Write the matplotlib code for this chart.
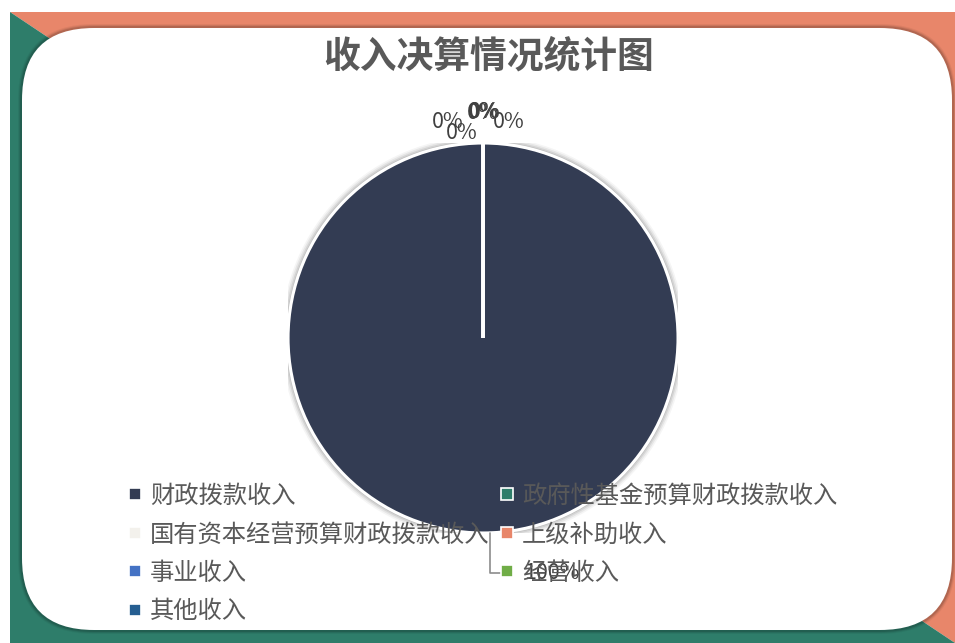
import matplotlib
matplotlib.use("Agg")
from matplotlib import pyplot as plt
from matplotlib.patches import FancyBboxPatch, Polygon, Circle
from matplotlib.lines import Line2D
import numpy as np

plt.rcParams['font.family'] = ['Noto Sans CJK SC', 'DejaVu Sans']

title = '收入决算情况统计图'
categories = ['财政拨款收入', '政府性基金预算财政拨款收入', '国有资本经营预算财政拨款收入',
              '上级补助收入', '事业收入', '经营收入', '其他收入']
values = [100, 0, 0, 0, 0, 0, 0]
colors = ['#333c53', '#2e7d6a', '#f3f1ec', '#e8866a', '#4472c4', '#70ad47', '#255e91']

# label offsets (pixels) from the rim point of each slice
label_offsets = [(62, -40), (-35, 21), (1, 31), (26, 21), (-21, 10), (2, 31), (0, 30)]

W, H = 955, 643
fig = plt.figure(figsize=(W / 100, H / 100), dpi=100)

# background frame
bg = fig.add_axes([0, 0, 1, 1])
bg.set_xlim(0, W)
bg.set_ylim(H, 0)
bg.axis('off')
bg.add_patch(Polygon([(10, 12), (W, 12), (W, H)], closed=True, color='#e8866a', lw=0))
bg.add_patch(Polygon([(10, 12), (W, H), (10, H)], closed=True, color='#2e7d6a', lw=0))
for i, a in enumerate([0.05, 0.08, 0.12]):
    g = 4 - i
    bg.add_patch(FancyBboxPatch((22 - g, 28 - g), 930 + 2 * g, 602 + 2 * g,
                                boxstyle='round,pad=0,rounding_size=%d' % (72 + g),
                                fc='black', ec='none', alpha=a))
bg.add_patch(FancyBboxPatch((22, 28), 930, 602, boxstyle='round,pad=0,rounding_size=72',
                            fc='white', ec='none'))
bg.text(489, 57, title, ha='center', va='center', fontsize=26.5, fontweight='bold',
        color='#595959')

# pie
ax = fig.add_axes([0.3016, 0.1711, 0.4084, 0.6065])
for i, a in enumerate([0.04, 0.06, 0.08, 0.1]):
    ax.add_patch(Circle((0, 0), 1.035 - i * 0.008, color='black', alpha=a, lw=0))
wedges, _ = ax.pie(values, colors=colors, startangle=90, counterclock=False,
                   wedgeprops=dict(edgecolor='white', linewidth=2.2))
# full circle wedge would draw a radius to the right, so outline it separately
wedges[0].set_linewidth(0)
ax.add_patch(Circle(wedges[0].center, wedges[0].r, fill=False, ec='white', lw=2.2))
ax.set_xlim(-1, 1)
ax.set_ylim(-1, 1)
ax.set_aspect('equal')

total = sum(values)
for i, w in enumerate(wedges):
    mid = np.deg2rad((w.theta1 + w.theta2) / 2)
    xy = (w.r * np.cos(mid), w.r * np.sin(mid))
    pct = '%d%%' % round(values[i] / total * 100)
    arrow = None
    if i == 0:
        xy = (w.r * np.cos(mid + 0.035), w.r * np.sin(mid + 0.035))
        arrow = dict(arrowstyle='-', color='#8c8c8c', lw=1.2,
                     connectionstyle='angle,angleA=0,angleB=90', shrinkA=10, shrinkB=0)
    ax.annotate(pct, xy=xy, xytext=label_offsets[i], textcoords='offset pixels',
                ha='center', va='center', fontsize=15.5, color='#404040',
                arrowprops=arrow, annotation_clip=False)

# legend in row-major order
handles = [Line2D([], [], ls='none', marker='s', markersize=8, markerfacecolor=c,
                  markeredgecolor='white', markeredgewidth=1.2) for c in colors]
order = [0, 2, 4, 6, 1, 3, 5]
fig.legend([handles[k] for k in order], [categories[k] for k in order], ncol=2,
           loc='upper left', bbox_to_anchor=(128 / W, 1 - 483 / H), frameon=False,
           fontsize=17.5, labelcolor='#595959', handlelength=0.6, handletextpad=0.3,
           columnspacing=0.44, labelspacing=0.51, borderpad=0, borderaxespad=0)

fig.savefig('out.png', dpi=100)
